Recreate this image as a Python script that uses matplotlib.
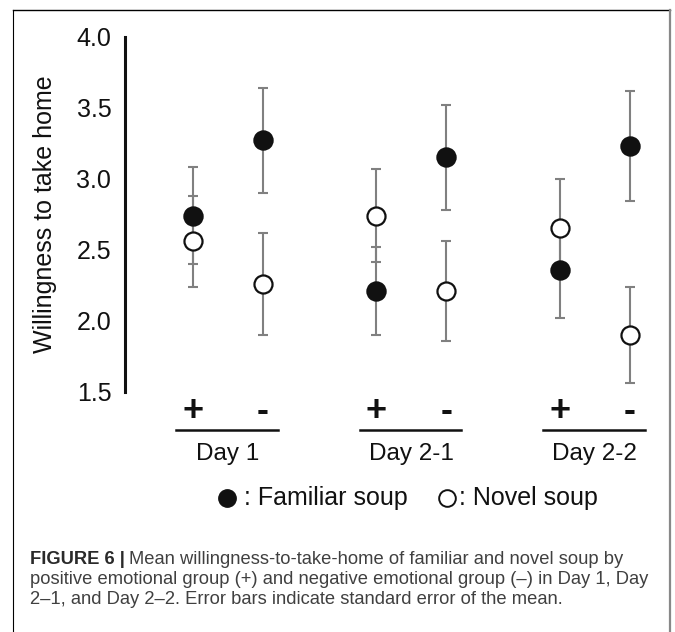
import numpy as np
from matplotlib import pyplot as plt
from matplotlib import transforms
from matplotlib.lines import Line2D

plt.rcParams['font.family'] = ['Liberation Sans', 'DejaVu Sans']

days = ["Day 1", "Day 2-1", "Day 2-2"]
groups = ["+", "-"]
familiar = [2.74, 3.27, 2.21, 3.15, 2.36, 3.23]
familiar_err = [0.34, 0.37, 0.31, 0.37, 0.34, 0.39]
novel = [2.56, 2.26, 2.74, 2.21, 2.65, 1.90]
novel_err = [0.32, 0.36, 0.33, 0.35, 0.35, 0.34]

W, H = 675, 632


def fx(px):
    return px / W


def fy(py):
    return 1 - py / H


fig = plt.figure(figsize=(W / 100, H / 100), dpi=100)
ax = fig.add_axes([fx(124.5), fy(391.7), fx(660) - fx(124.5), fy(36.7) - fy(391.7)])

# x positions: two groups per day, days spread apart
day_centers = np.arange(len(days)) * 2.62
xs = np.array([[c, c + 1] for c in day_centers]).ravel()

err_kw = dict(fmt='none', ecolor='#808080', elinewidth=1.5, capsize=3.6, capthick=1.5, zorder=1)
ax.errorbar(xs, familiar, yerr=familiar_err, **err_kw)
ax.errorbar(xs, novel, yerr=novel_err, **err_kw)
ax.plot(xs, familiar, 'o', ms=13.5, mfc='#111111', mec='#111111', mew=1.2, ls='none', zorder=3)
ax.plot(xs, novel, 'o', ms=13, mfc='white', mec='#111111', mew=1.6, ls='none', zorder=3)

ax.set_xlim(-(193 - 124.5) / 70, (660 - 193) / 70)
ax.set_ylim(1.5, 4.0)
ax.set_yticks([1.5, 2.0, 2.5, 3.0, 3.5, 4.0])
ax.set_yticklabels(["1.5", "2.0", "2.5", "3.0", "3.5", "4.0"])
ax.tick_params(axis='y', length=0, pad=9.5, labelsize=18, colors='#111111')
ax.set_xticks([])
for s in ['top', 'right', 'bottom']:
    ax.spines[s].set_visible(False)
ax.spines['left'].set_linewidth(2.2)
ax.spines['left'].set_color('#111111')

fig.text(fx(45), fy(214), "Willingness to take home", rotation=90,
         ha='center', va='center', fontsize=18, color='#111111')

# group labels, underlines and day labels under the axis
tr = transforms.blended_transform_factory(ax.transData, fig.transFigure)
for i, c in enumerate(day_centers):
    for j, g in enumerate(groups):
        ax.text(c + j, fy(411), g, transform=tr, ha='center', va='center',
                fontsize=26, weight='bold', color='#111111')
    ax.add_line(Line2D([c - 0.24, c + 1.21], [fy(430), fy(430)], transform=tr,
                       color='#111111', lw=1.8, clip_on=False))
    ax.text(c + 0.5, fy(454), days[i], transform=tr, ha='center', va='center',
            fontsize=17.5, color='#111111')

# legend drawn as markers plus text
fig.add_artist(Line2D([fx(227)], [fy(498)], marker='o', ms=12.5, mfc='#111111',
                      mec='#111111', ls='none', transform=fig.transFigure))
fig.text(fx(244), fy(498), ": Familiar soup", ha='left', va='center', fontsize=18, color='#111111')
fig.add_artist(Line2D([fx(447)], [fy(498)], marker='o', ms=12, mfc='white',
                      mec='#111111', mew=1.4, ls='none', transform=fig.transFigure))
fig.text(fx(459), fy(498), ": Novel soup", ha='left', va='center', fontsize=18, color='#111111')

# frame
fig.add_artist(Line2D([fx(13), fx(13)], [fy(10), 0], color='black', lw=0.8, transform=fig.transFigure))
fig.add_artist(Line2D([fx(13), fx(670)], [fy(10), fy(10)], color='black', lw=1.0, transform=fig.transFigure))
fig.add_artist(Line2D([fx(669.5), fx(669.5)], [fy(10), 0], color='#888888', lw=1.6, transform=fig.transFigure))

# caption
cap_size = 13.2
bold = fig.text(fx(30), fy(559), "FIGURE 6 |", ha='left', va='center', fontsize=cap_size,
                weight='bold', color='#2a2a2a')
renderer = fig.canvas.get_renderer()
bb = bold.get_window_extent(renderer)
fig.text(bb.x1 / W + fx(4), fy(559),
         "Mean willingness-to-take-home of familiar and novel soup by",
         ha='left', va='center', fontsize=cap_size, color='#404040')
fig.text(fx(30), fy(580),
         "positive emotional group (+) and negative emotional group (\u2013) in Day 1, Day",
         ha='left', va='center', fontsize=cap_size, color='#404040')
fig.text(fx(30), fy(600),
         "2\u20131, and Day 2\u20132. Error bars indicate standard error of the mean.",
         ha='left', va='center', fontsize=cap_size, color='#404040')

fig.savefig("out.png", dpi=100)
